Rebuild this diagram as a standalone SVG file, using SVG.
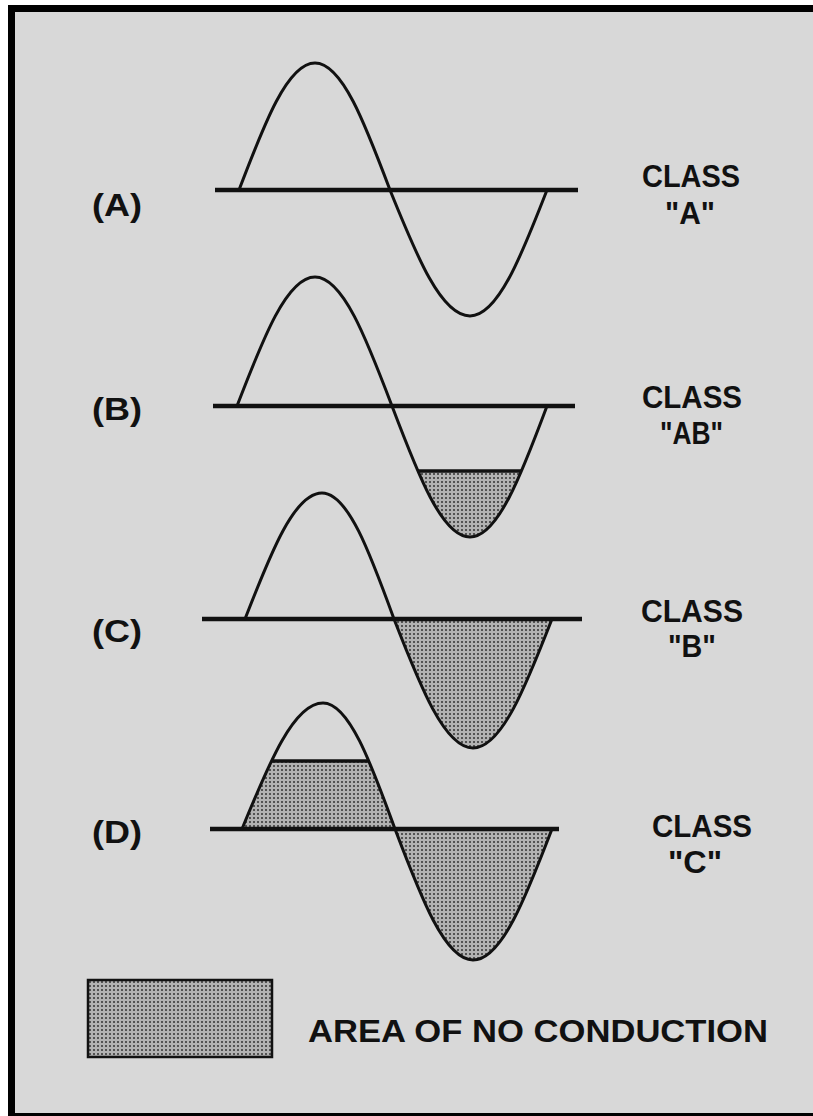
<svg xmlns="http://www.w3.org/2000/svg" width="813" height="1116" viewBox="0 0 813 1116">
<defs>
<pattern id="dots" width="4" height="4" patternUnits="userSpaceOnUse">
<rect width="4" height="4" fill="#b2b2b2"/>
<circle cx="2" cy="2" r="1" fill="#333"/>
</pattern>
<clipPath id="clipB"><rect x="380" y="471" width="180" height="80"/></clipPath>
<clipPath id="clipD"><rect x="230" y="761" width="180" height="70"/></clipPath>
<style>
.wave{fill:none;stroke:#111;stroke-width:3;stroke-linejoin:round;stroke-linecap:round}
.axis{stroke:#111;stroke-width:4.5}
.cut{stroke:#111;stroke-width:3.5}
.shade{fill:url(#dots)}
.lbl{font-family:"Liberation Sans",Arial,sans-serif;font-weight:bold;font-size:31px;fill:#111}
.cls{font-family:"Liberation Sans",Arial,sans-serif;font-weight:bold;font-size:31px;fill:#111}
</style>
</defs>
<rect width="813" height="1116" fill="#fff"/>
<rect x="8" y="5" width="805" height="1111" fill="#000"/>
<rect x="15" y="12" width="798" height="1101" fill="#d8d8d8"/>

<g id="wave-a">
<line class="axis" x1="215" y1="190" x2="578" y2="190"/>
<path class="wave" d="M239,190 C264.4,123.3 287.6,63 315,63 C342,63 364.9,123.3 390,190 C416.7,256.2 441.2,316 470,316 C497.7,316 521.3,256.2 547,190"/>
</g>

<g id="wave-b">
<path class="shade" clip-path="url(#clipB)" d="M392,406 C418.1,474.8 441.9,537 470,537 C497.7,537 521.3,474.8 547,406 Z"/>
<line class="axis" x1="213" y1="406" x2="575" y2="406"/>
<path class="wave" d="M237,406 C263.1,338.3 286.9,277 315,277 C342.7,277 366.3,338.3 392,406 C418.1,474.8 441.9,537 470,537 C497.7,537 521.3,474.8 547,406"/>
<line class="cut" x1="418" y1="471" x2="521" y2="471"/>
</g>

<g id="wave-c">
<path class="shade" d="M394,619 C420.4,686.7 444.6,748 473,748 C501.4,748 525.6,686.7 552,619 Z"/>
<line class="axis" x1="202" y1="619" x2="582" y2="619"/>
<path class="wave" d="M245,619 C270.7,552.8 294.3,493 322,493 C347.9,493 369.9,552.8 394,619 C420.4,686.7 444.6,748 473,748 C501.4,748 525.6,686.7 552,619"/>
</g>

<g id="wave-d">
<path class="shade" clip-path="url(#clipD)" d="M242,829 C269.1,762.8 293.8,703 323,703 C348.9,703 370.9,762.8 395,829 Z"/>
<path class="shade" d="M395,829 C421.1,897.8 444.9,960 473,960 C501.4,960 525.6,897.8 552,829 Z"/>
<line class="axis" x1="210" y1="829" x2="559" y2="829"/>
<path class="wave" d="M242,829 C269.1,762.8 293.8,703 323,703 C348.9,703 370.9,762.8 395,829 C421.1,897.8 444.9,960 473,960 C501.4,960 525.6,897.8 552,829"/>
<line class="cut" x1="271" y1="761" x2="369" y2="761"/>
</g>

<g id="label-a">
<text class="lbl" x="92" y="216" textLength="50" lengthAdjust="spacingAndGlyphs">(A)</text>
<text class="cls" x="642" y="187" textLength="98" lengthAdjust="spacingAndGlyphs">CLASS</text>
<text class="cls" x="665" y="224" textLength="50" lengthAdjust="spacingAndGlyphs">"A"</text>
</g>
<g id="label-b">
<text class="lbl" x="92" y="420" textLength="50" lengthAdjust="spacingAndGlyphs">(B)</text>
<text class="cls" x="642" y="408" textLength="100" lengthAdjust="spacingAndGlyphs">CLASS</text>
<text class="cls" x="660" y="444" textLength="63" lengthAdjust="spacingAndGlyphs">"AB"</text>
</g>
<g id="label-c">
<text class="lbl" x="92" y="642" textLength="50" lengthAdjust="spacingAndGlyphs">(C)</text>
<text class="cls" x="641" y="622" textLength="102" lengthAdjust="spacingAndGlyphs">CLASS</text>
<text class="cls" x="668" y="657" textLength="48" lengthAdjust="spacingAndGlyphs">"B"</text>
</g>
<g id="label-d">
<text class="lbl" x="92" y="843" textLength="50" lengthAdjust="spacingAndGlyphs">(D)</text>
<text class="cls" x="652" y="837" textLength="100" lengthAdjust="spacingAndGlyphs">CLASS</text>
<text class="cls" x="668" y="873" textLength="54" lengthAdjust="spacingAndGlyphs">"C"</text>
</g>

<g id="legend">
<rect class="shade" x="88" y="980" width="184" height="77" stroke="#111" stroke-width="2.5"/>
<text class="cls" x="308" y="1042" textLength="460" lengthAdjust="spacingAndGlyphs">AREA OF NO CONDUCTION</text>
</g>
</svg>
